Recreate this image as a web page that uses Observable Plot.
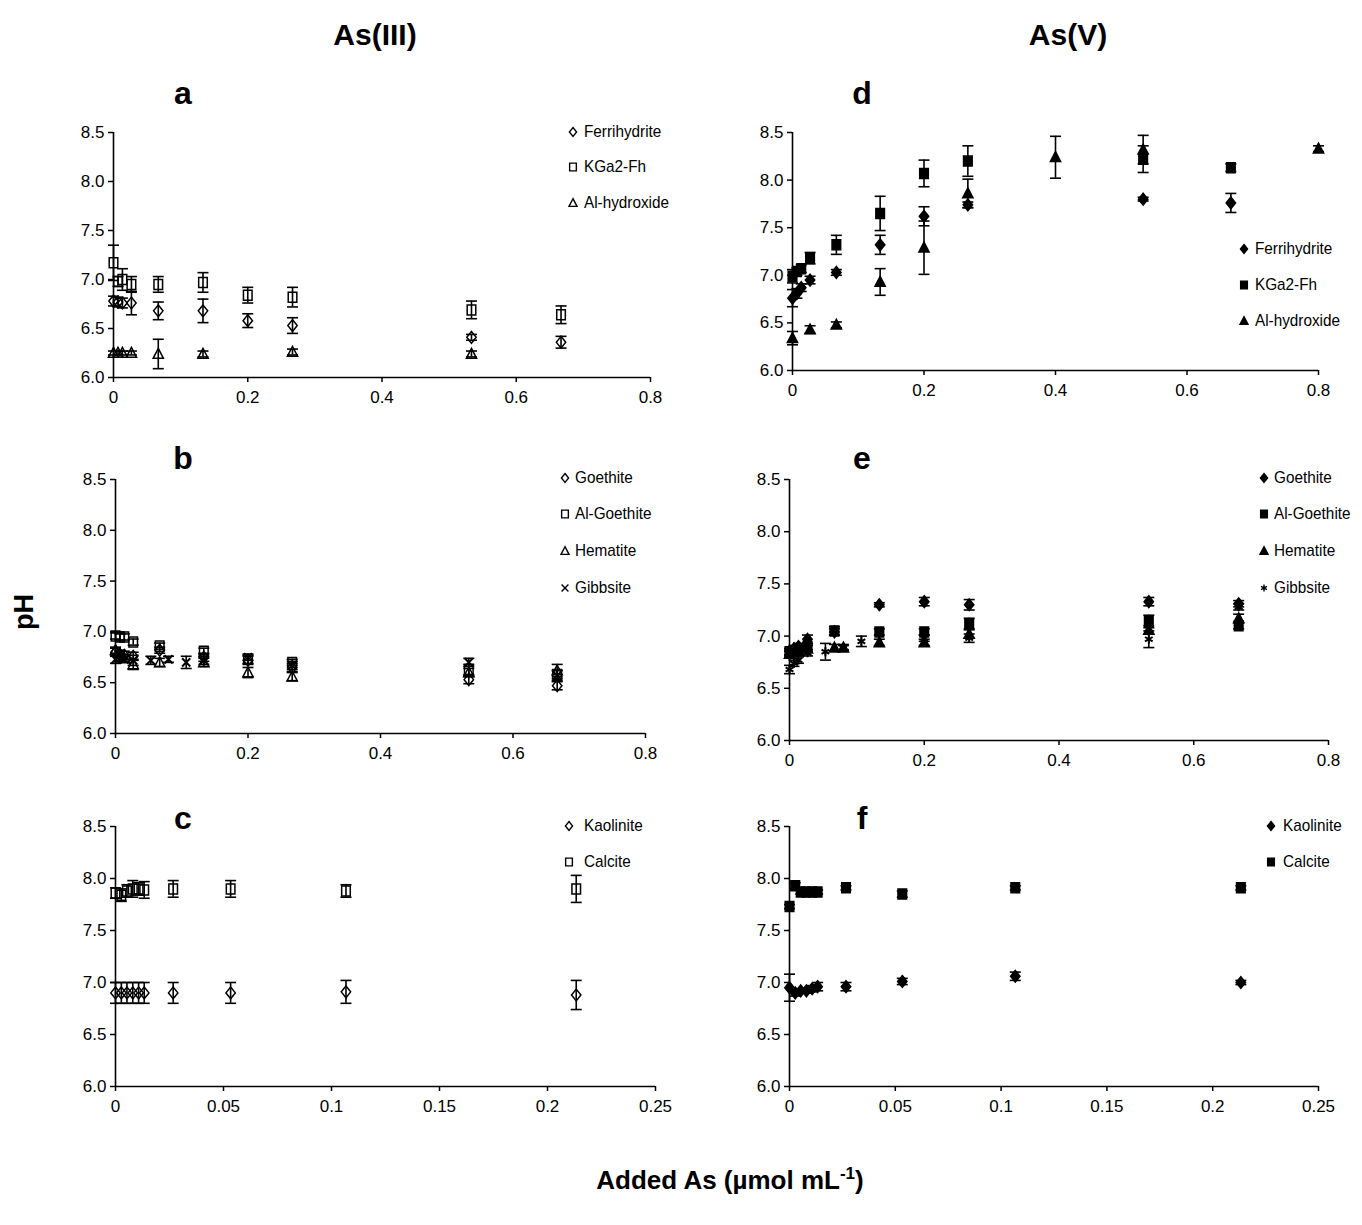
<!DOCTYPE html>
<html><head><meta charset="utf-8">
<script src="https://cdn.jsdelivr.net/npm/d3@7"></script>
<script src="https://cdn.jsdelivr.net/npm/@observablehq/plot@0.6"></script>
<style>
body{margin:0;background:#fff;}
#root{position:relative;width:1362px;height:1225px;font-family:"Liberation Sans",Arial,sans-serif;color:#000;overflow:hidden;}
.t{position:absolute;font-weight:bold;white-space:nowrap;transform:translate(-50%,-50%);}
.panel{position:absolute;}
.leg{position:absolute;font-size:17px;font-family:"Liberation Sans",Arial,sans-serif;white-space:nowrap;transform:translateY(-50%) scaleX(0.9);transform-origin:left center;}
.legsym{position:absolute;transform:translate(-50%,-50%);}
.panel svg g[aria-label$="tick"] path{stroke-width:1.5;}
</style></head><body><div id="root"></div>
<script>
// ---------- x values ----------
const xFull = [0, 0.0067, 0.0133, 0.0267, 0.0667, 0.1333, 0.2, 0.2667, 0.5333, 0.6667];
const xAlA = [0, 0.0067, 0.0133, 0.0267, 0.0667, 0.1333, 0.2667, 0.5333];
const xAlD = [0, 0.0267, 0.0667, 0.1333, 0.2, 0.2667, 0.4, 0.5333, 0.8];
const xGibbB = [0, 0.0067, 0.0133, 0.0267, 0.0533, 0.08, 0.1067, 0.1333, 0.2, 0.2667, 0.5333, 0.6667];
const xHemE = [0, 0.0133, 0.0267, 0.0667, 0.08, 0.1333, 0.2, 0.2667, 0.5333, 0.6667];
const xGibbE = [0, 0.0067, 0.0133, 0.0267, 0.0533, 0.08, 0.1067, 0.2, 0.2667, 0.5333, 0.6667];
const xLow = [0, 0.0027, 0.0053, 0.008, 0.0107, 0.0133, 0.0267, 0.0533, 0.1067, 0.2133];

// ---------- panel a: As(III) ----------
const aFerri = [6.78, 6.77, 6.76, 6.76, 6.68, 6.68, 6.58, 6.53, 6.41, 6.36];
const aFerriErr = [0.05, 0.05, 0.05, 0.12, 0.09, 0.12, 0.07, 0.08, 0.03, 0.06];
const aKga = [7.17, 6.98, 7.0, 6.95, 6.95, 6.97, 6.84, 6.82, 6.69, 6.64];
const aKgaErr = [0.18, 0.05, 0.11, 0.08, 0.08, 0.1, 0.08, 0.1, 0.09, 0.09];
const aAl = [6.25, 6.25, 6.25, 6.25, 6.24, 6.24, 6.26, 6.24];
const aAlErr = [0.02, 0.02, 0.02, 0.02, 0.15, 0.03, 0.03, 0.03];

// ---------- panel b ----------
const bGoe = [6.8, 6.78, 6.77, 6.76, 6.82, 6.75, 6.72, 6.65, 6.53, 6.47];
const bGoeErr = [0.04, 0.04, 0.04, 0.04, 0.03, 0.04, 0.04, 0.04, 0.04, 0.04];
const bAlGoe = [6.96, 6.95, 6.95, 6.9, 6.86, 6.81, 6.73, 6.7, 6.63, 6.58];
const bAlGoeErr = [0.03, 0.03, 0.03, 0.03, 0.03, 0.03, 0.04, 0.03, 0.05, 0.04];
const bHem = [6.82, 6.78, 6.74, 6.68, 6.7, 6.7, 6.6, 6.56, 6.6, 6.62];
const bHemErr = [0.03, 0.03, 0.04, 0.05, 0.04, 0.04, 0.05, 0.04, 0.04, 0.06];
const bGibb = [6.73, 6.74, 6.73, 6.72, 6.72, 6.73, 6.7, 6.72, 6.75, 6.67, 6.7, 6.57];
const bGibbErr = [0.04, 0.03, 0.03, 0.05, 0.04, 0.03, 0.06, 0.04, 0.03, 0.04, 0.04, 0.05];

// ---------- panel c ----------
const cKao = [6.9, 6.9, 6.9, 6.9, 6.9, 6.9, 6.9, 6.9, 6.91, 6.88];
const cKaoErr = [0.1, 0.1, 0.1, 0.1, 0.1, 0.1, 0.1, 0.1, 0.11, 0.14];
const cCal = [7.86, 7.84, 7.88, 7.9, 7.9, 7.89, 7.9, 7.9, 7.88, 7.9];
const cCalErr = [0.05, 0.06, 0.06, 0.08, 0.06, 0.08, 0.08, 0.08, 0.06, 0.13];

// ---------- panel d: As(V) ----------
const dFerri = [6.76, 6.81, 6.87, 6.95, 7.03, 7.32, 7.62, 7.74, 7.8, 7.76];
const dFerriErr = [0.09, 0.05, 0.04, 0.04, 0.03, 0.1, 0.1, 0.03, 0.02, 0.1];
const dKga = [6.99, 7.04, 7.07, 7.18, 7.32, 7.65, 8.07, 8.2, 8.22, 8.13];
const dKgaErr = [0.07, 0.04, 0.04, 0.06, 0.1, 0.18, 0.14, 0.16, 0.14, 0.04];
const dAl = [6.34, 6.43, 6.48, 6.93, 7.29, 7.86, 8.24, 8.32, 8.33];
const dAlErr = [0.07, 0.04, 0.03, 0.14, 0.28, 0.15, 0.22, 0.15, 0.03];

// ---------- panel e ----------
const eGoe = [6.85, 6.88, 6.9, 6.97, 7.04, 7.3, 7.33, 7.3, 7.33, 7.31];
const eGoeErr = [0.03, 0.03, 0.03, 0.04, 0.03, 0.02, 0.04, 0.05, 0.04, 0.03];
const eAlGoe = [6.85, 6.85, 6.88, 6.9, 7.05, 7.04, 7.04, 7.12, 7.14, 7.1];
const eAlGoeErr = [0.03, 0.03, 0.03, 0.03, 0.04, 0.03, 0.03, 0.05, 0.06, 0.03];
const eHem = [6.83, 6.85, 6.88, 6.89, 6.89, 6.94, 6.94, 7.02, 7.06, 7.17];
const eHemErr = [0.03, 0.03, 0.03, 0.03, 0.03, 0.03, 0.03, 0.04, 0.04, 0.04];
const eGibb = [6.68, 6.74, 6.77, 6.84, 6.85, 6.89, 6.95, 6.98, 6.98, 6.97, 7.28];
const eGibbErr = [0.04, 0.03, 0.03, 0.03, 0.08, 0.02, 0.05, 0.03, 0.04, 0.08, 0.03];

// ---------- panel f ----------
const fKao = [6.95, 6.9, 6.92, 6.92, 6.94, 6.96, 6.96, 7.01, 7.06, 7.0];
const fKaoErr = [0.13, 0.03, 0.02, 0.02, 0.03, 0.04, 0.04, 0.03, 0.04, 0.02];
const fCal = [7.73, 7.93, 7.87, 7.87, 7.87, 7.87, 7.91, 7.85, 7.91, 7.91];
const fCalErr = [0.02, 0.03, 0.02, 0.02, 0.02, 0.02, 0.02, 0.03, 0.02, 0.02];

// ---------- ticks ----------
const xTicksWide = [0, 0.2, 0.4, 0.6, 0.8];
const xTicksNarrow = [0, 0.05, 0.1, 0.15, 0.2, 0.25];
const yTicks = [6.0, 6.5, 7.0, 7.5, 8.0, 8.5];

// marker shapes (Excel-like proportions)
const rad = size => Math.sqrt(size / Math.PI);
const S = {
  diamond: {draw(c, s){ const r = rad(s); c.moveTo(0,-1.4*r); c.lineTo(1.12*r,0); c.lineTo(0,1.4*r); c.lineTo(-1.12*r,0); c.closePath(); }},
  square: {draw(c, s){ const r = rad(s); c.rect(-1.05*r,-1.22*r,2.1*r,2.44*r); }},
  triangle: {draw(c, s){ const r = rad(s); c.moveTo(0,-1.35*r); c.lineTo(1.25*r,1.05*r); c.lineTo(-1.25*r,1.05*r); c.closePath(); }},
  times: d3.symbolTimes,
  asterisk: d3.symbolAsterisk
};
const symR = {diamond: 4.2, square: 4.1, triangle: 4.1, times: 3.8, asterisk: 4.2};
const cap = {draw(ctx, size){ const r = rad(size); ctx.moveTo(-r,0); ctx.lineTo(r,0); }};

const panels = [
  {id:"a", ly:93, x0:113, x1:650, yTop:132, yBot:377, xmax:0.8, xticks:xTicksWide,
   series:[
     {name:"Ferrihydrite", x:xFull, y:aFerri, e:aFerriErr, sym:"diamond", filled:false},
     {name:"KGa2-Fh", x:xFull, y:aKga, e:aKgaErr, sym:"square", filled:false},
     {name:"Al-hydroxide", x:xAlA, y:aAl, e:aAlErr, sym:"triangle", filled:false}],
   leg:{sx:573, tx:584, ys:[132,167,203]}},
  {id:"b", ly:458, x0:115, x1:645, yTop:479, yBot:733, xmax:0.8, xticks:xTicksWide,
   series:[
     {name:"Goethite", x:xFull, y:bGoe, e:bGoeErr, sym:"diamond", filled:false},
     {name:"Al-Goethite", x:xFull, y:bAlGoe, e:bAlGoeErr, sym:"square", filled:false},
     {name:"Hematite", x:xFull, y:bHem, e:bHemErr, sym:"triangle", filled:false},
     {name:"Gibbsite", x:xGibbB, y:bGibb, e:bGibbErr, sym:"times", filled:false}],
   leg:{sx:565, tx:575, ys:[478,514,551,588]}},
  {id:"c", ly:818, x0:115, x1:655, yTop:826, yBot:1086, xmax:0.25, xticks:xTicksNarrow,
   series:[
     {name:"Kaolinite", x:xLow, y:cKao, e:cKaoErr, sym:"diamond", filled:false},
     {name:"Calcite", x:xLow, y:cCal, e:cCalErr, sym:"square", filled:false}],
   leg:{sx:569, tx:584, ys:[826,862]}},
  {id:"d", ly:93, x0:792, x1:1318, yTop:132, yBot:370, xmax:0.8, xticks:xTicksWide,
   series:[
     {name:"Ferrihydrite", x:xFull, y:dFerri, e:dFerriErr, sym:"diamond", filled:true},
     {name:"KGa2-Fh", x:xFull, y:dKga, e:dKgaErr, sym:"square", filled:true},
     {name:"Al-hydroxide", x:xAlD, y:dAl, e:dAlErr, sym:"triangle", filled:true}],
   leg:{sx:1244, tx:1255, ys:[249,285,321]}},
  {id:"e", ly:458, x0:789, x1:1328, yTop:479, yBot:740, xmax:0.8, xticks:xTicksWide,
   series:[
     {name:"Goethite", x:xFull, y:eGoe, e:eGoeErr, sym:"diamond", filled:true},
     {name:"Al-Goethite", x:xFull, y:eAlGoe, e:eAlGoeErr, sym:"square", filled:true},
     {name:"Hematite", x:xHemE, y:eHem, e:eHemErr, sym:"triangle", filled:true},
     {name:"Gibbsite", x:xGibbE, y:eGibb, e:eGibbErr, sym:"asterisk", filled:false}],
   leg:{sx:1264, tx:1274, ys:[478,514,551,588]}},
  {id:"f", ly:818, x0:789, x1:1318, yTop:826, yBot:1086, xmax:0.25, xticks:xTicksNarrow,
   series:[
     {name:"Kaolinite", x:xLow, y:fKao, e:fKaoErr, sym:"diamond", filled:true},
     {name:"Calcite", x:xLow, y:fCal, e:fCalErr, sym:"square", filled:true}],
   leg:{sx:1271, tx:1283, ys:[826,862]}}
];

const root = document.getElementById("root");
function addText(html, x, y, size, extra){
  const d = document.createElement("div");
  d.className = "t"; d.innerHTML = html;
  d.style.left = x+"px"; d.style.top = y+"px"; d.style.fontSize = size+"px";
  if (extra) d.style.transform = extra;
  root.appendChild(d);
}

const mL=70, mT=20, mR=30, mB=40;
panels.forEach(p => {
  const rows = [];
  p.series.forEach(s => s.x.forEach((xv,i) => rows.push({series:s.name, x:xv, y:s.y[i], e:s.e[i]})));
  const marks = [
    Plot.ruleY([6], {stroke:"#000", strokeWidth:1.6}),
    Plot.ruleX([0], {stroke:"#000", strokeWidth:1.6}),
    Plot.ruleX(rows, {x:"x", y1:d=>d.y-d.e, y2:d=>d.y+d.e, stroke:"#000", strokeWidth:1.6}),
    Plot.dot(rows, {x:"x", y:d=>d.y-d.e, symbol:cap, r:5.5, stroke:"#000", strokeWidth:1.6}),
    Plot.dot(rows, {x:"x", y:d=>d.y+d.e, symbol:cap, r:5.5, stroke:"#000", strokeWidth:1.6})
  ];
  p.series.forEach(s => {
    const lineSym = s.sym === "times" || s.sym === "asterisk";
    marks.push(Plot.dot(s.x.map((xv,i)=>({x:xv, y:s.y[i]})), {
      x:"x", y:"y", symbol:S[s.sym], r:symR[s.sym],
      fill: (s.filled ? "#000" : "none"), stroke:"#000",
      strokeWidth: lineSym ? 2 : 1.5
    }));
  });
  const chart = Plot.plot({
    width: p.x1 - p.x0 + mL + mR,
    height: p.yBot - p.yTop + mT + mB,
    marginLeft:mL, marginTop:mT, marginRight:mR, marginBottom:mB,
    style:{fontSize:"17px", fontFamily:"'Liberation Sans', Arial, sans-serif", color:"#000", background:"transparent", overflow:"visible"},
    x:{domain:[0,p.xmax], ticks:p.xticks, tickFormat:d=>String(d), tickSize:5, tickPadding:8, label:null},
    y:{domain:[6,8.5], ticks:yTicks, tickFormat:d3.format(".1f"), tickSize:5, tickPadding:4, label:null},
    marks
  });
  const wrap = document.createElement("div");
  wrap.className = "panel";
  wrap.style.left = (p.x0 - mL) + "px";
  wrap.style.top = (p.yTop - mT) + "px";
  wrap.appendChild(chart);
  root.appendChild(wrap);

  // legend
  p.series.forEach((s, i) => {
    const y = p.leg.ys[i];
    const sv = d3.create("svg").attr("width",14).attr("height",14).attr("class","legsym")
      .style("left", p.leg.sx+"px").style("top", y+"px").style("overflow","visible");
    sv.append("path").attr("transform","translate(7,7)")
      .attr("d", d3.symbol(S[s.sym], Math.PI*3.2*3.2)())
      .attr("fill", s.filled ? "#000" : "none").attr("stroke","#000").attr("stroke-width",1.4);
    root.appendChild(sv.node());
    const t = document.createElement("div");
    t.className = "leg"; t.textContent = s.name;
    t.style.left = p.leg.tx+"px"; t.style.top = y+"px";
    root.appendChild(t);
  });
  const lx = p.x0 < 400 ? 183 : 862;
  addText(p.id, lx, p.ly, 32);
});

addText("As(III)", 375, 35, 30);
addText("As(V)", 1068, 35, 30);
addText("pH", 24, 612, 27, "translate(-50%,-50%) rotate(-90deg)");
addText("Added As (µmol mL<sup style='font-size:17px;vertical-align:super;line-height:0'>-1</sup>)", 730, 1180, 26);
</script></body></html>
